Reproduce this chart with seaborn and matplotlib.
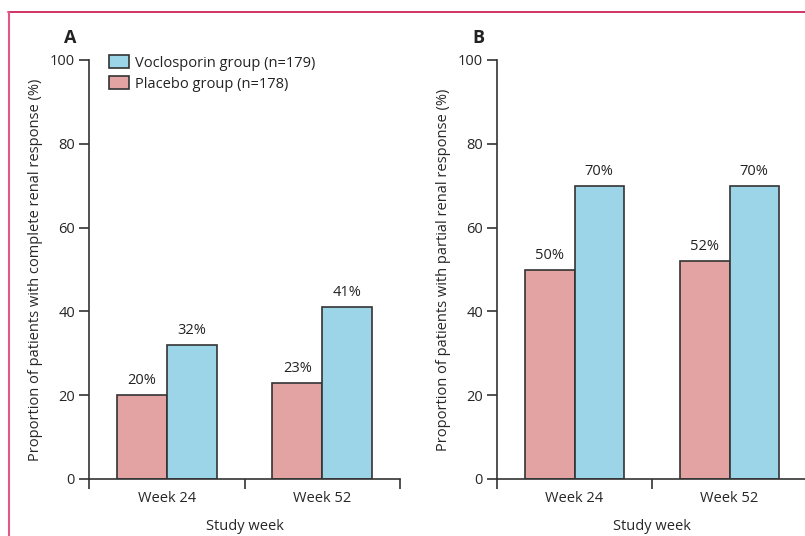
import matplotlib
matplotlib.use("Agg")
import matplotlib.pyplot as plt
import matplotlib.patches as mpatches
import matplotlib.lines as mlines
import seaborn as sns
import pandas as pd

# Data
weeks = ["Week 24", "Week 52"]
groups = ["Placebo group (n=178)", "Voclosporin group (n=179)"]
complete_placebo = [20, 23]
complete_voclosporin = [32, 41]
partial_placebo = [50, 52]
partial_voclosporin = [70, 70]
y_ticks = [0, 20, 40, 60, 80, 100]

placebo_color = "#e3a3a2"
vocl_color = "#9dd5e8"
edge = "#333333"

sns.set_theme(style="white")
plt.rcParams["font.family"] = ["Open Sans", "DejaVu Sans"]
plt.rcParams["text.color"] = "#222222"


def make_frame(placebo, vocl):
    rows = []
    for w, p, v in zip(weeks, placebo, vocl):
        rows.append({"week": w, "group": groups[0], "value": p})
        rows.append({"week": w, "group": groups[1], "value": v})
    return pd.DataFrame(rows)


fig = plt.figure(figsize=(8.05, 5.36), dpi=100)
ax_a = fig.add_axes([89 / 805, 1 - 479 / 536, 311 / 805, 419 / 536])
ax_b = fig.add_axes([497 / 805, 1 - 479 / 536, 310 / 805, 419 / 536])

panels = [
    (ax_a, make_frame(complete_placebo, complete_voclosporin),
     "Proportion of patients with complete renal response (%)", "A"),
    (ax_b, make_frame(partial_placebo, partial_voclosporin),
     "Proportion of patients with partial renal response (%)", "B"),
]

for ax, df, ylabel, letter in panels:
    sns.barplot(data=df, x="week", y="value", hue="group", ax=ax,
                palette=[placebo_color, vocl_color], width=0.64,
                edgecolor=edge, linewidth=1.2, saturation=1, legend=False)
    ax.set_xlim(-0.5, 1.5)
    ax.set_ylim(0, 100)
    ax.set_yticks(y_ticks)
    ax.set_yticklabels([str(t) for t in y_ticks], fontsize=10.5)
    ax.spines["top"].set_visible(False)
    ax.spines["right"].set_visible(False)
    for s in ("left", "bottom"):
        ax.spines[s].set_color(edge)
        ax.spines[s].set_linewidth(1.2)
    ax.tick_params(axis="y", direction="out", length=7, width=1.2,
                   color=edge, pad=3, left=True)
    # group separators as ticks, category names as unmarked minor ticks
    ax.set_xticks([-0.5, 0.5, 1.5])
    ax.set_xticklabels(["", "", ""])
    ax.set_xticks([0, 1], minor=True)
    ax.set_xticklabels(weeks, minor=True, fontsize=10.5)
    ax.tick_params(axis="x", which="major", direction="out", length=7,
                   width=1.2, color=edge, bottom=True)
    ax.tick_params(axis="x", which="minor", length=0, pad=9)
    ax.set_xlabel("Study week", fontsize=10.5, labelpad=9)
    ax.set_ylabel(ylabel, fontsize=10.5, labelpad=5)
    for c in ax.containers:
        ax.bar_label(c, labels=[f"{v:.0f}%" for v in c.datavalues],
                     padding=5, fontsize=10.5)
    ax.text(-0.06, 1.052, letter, transform=ax.transAxes, fontsize=13,
            fontweight="bold", ha="center", va="center")

handles = [mpatches.Patch(facecolor=vocl_color, edgecolor=edge, linewidth=1.2,
                          label=groups[1]),
           mpatches.Patch(facecolor=placebo_color, edgecolor=edge,
                          linewidth=1.2, label=groups[0])]
ax_a.legend(handles=handles, loc="upper left", bbox_to_anchor=(0.045, 1.025),
            frameon=False, fontsize=10.5, handlelength=1.4, handleheight=1.0,
            handletextpad=0.4, labelspacing=0.35, borderaxespad=0)

# journal-style frame lines along the top and left edges
fig.add_artist(mlines.Line2D([8 / 805, 1], [1 - 12 / 536, 1 - 12 / 536],
                             transform=fig.transFigure, color="#c8104a",
                             linewidth=1.2))
fig.add_artist(mlines.Line2D([8.5 / 805, 8.5 / 805], [0, 1 - 12 / 536],
                             transform=fig.transFigure, color="#e0578a",
                             linewidth=1.5))

fig.savefig("out.png", dpi=100)
